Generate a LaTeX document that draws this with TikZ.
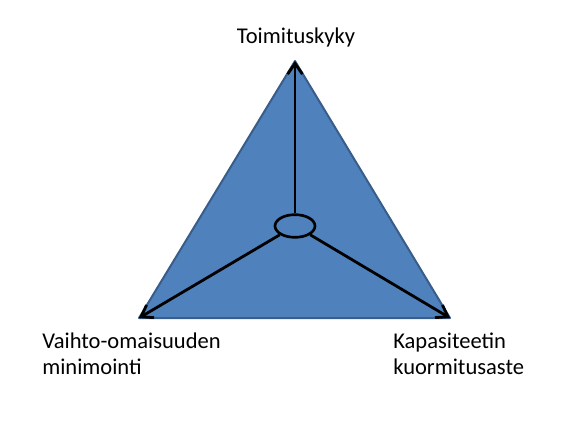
\documentclass[tikz,border=0pt]{standalone}
\usepackage{fontspec}
\setmainfont{Carlito}
\usetikzlibrary{arrows.meta,shapes.geometric}
\definecolor{fill1}{HTML}{4F81BD}
\definecolor{edge1}{HTML}{385D8A}

\begin{document}
\begin{tikzpicture}[x=0.75pt,y=-0.75pt,font=\fontsize{16.9}{19.5}\selectfont]
\useasboundingbox (0,0) rectangle (567,438);

% Corners of the triangle:
\coordinate (top) at (295,61);
\coordinate (left) at (139,318);
\coordinate (right) at (450,318);

\begin{scope}[line width=1.5pt]
\draw [edge1,fill=fill1,line join=round] (top) -- (left) -- (right) -- cycle;
\end{scope}

% Centre and labels
\node [ellipse,draw,line width=2pt,minimum width=30,minimum height=17,inner sep=0pt] (hub) at (295,226) {};

\node [anchor=base] (lab_top) at (296,44) {Toimituskyky};
\node [anchor=base west,align=left,inner sep=0pt] (lab_left) at (42,374) {Vaihto-omaisuuden\\minimointi};
\node [anchor=base west,align=left,inner sep=0pt] (lab_right) at (393,374) {Kapasiteetin\\kuormitusaste};

% Lines from centre to corners
\begin{scope}[line width=2.1pt,every path/.style={draw, -{Straight Barb[length=8pt,width=11pt]}}]
\path (hub.north) -- (top);
\path (hub.210) -- (left);
\path (hub.330) -- (right);
\end{scope}
\end{tikzpicture}
\end{document}
